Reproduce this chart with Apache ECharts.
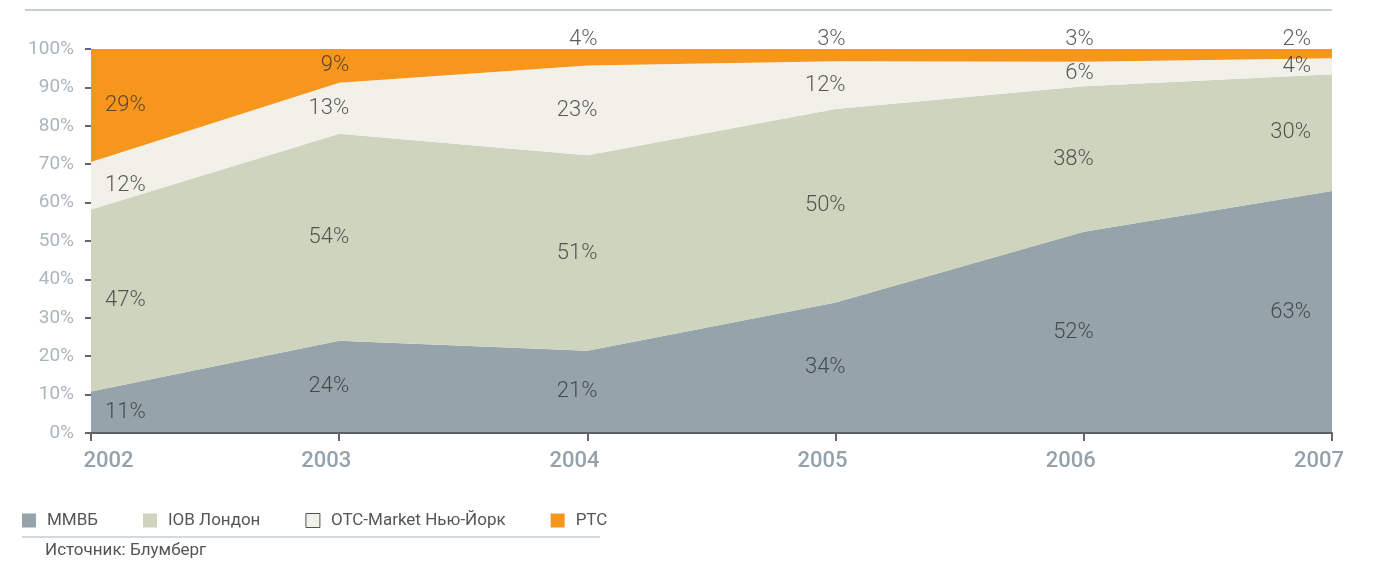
<!DOCTYPE html>
<html lang="ru">
<head>
    <meta charset="UTF-8">
    <title>Структура торгов</title>
    <script src="https://cdn.jsdelivr.net/npm/echarts@6/dist/echarts.min.js"></script>
    <style>
        html, body {margin: 0; padding: 0; background: #fff;}
        #main {width: 1376px; height: 566px;}
    </style>
</head>
<body>
<div id="main"></div>
<script type="text/javascript">

    // данные
    var years = ['2002', '2003', '2004', '2005', '2006', '2007'];
    var seriesNames = ['ММВБ', 'IOB Лондон', 'OTC-Market Нью-Йорк', 'РТС'];
    var mmvb = [10.8, 24.0, 21.4, 34.0, 52.4, 63.0];
    var iob = [47.4, 53.9, 50.9, 50.4, 37.9, 30.4];
    var otc = [12.4, 13.3, 23.4, 12.4, 6.4, 4.2];
    var rts = [29.4, 8.8, 4.3, 3.2, 3.3, 2.4];
    var yTicks = [0, 10, 20, 30, 40, 50, 60, 70, 80, 90, 100];

    var colors = ['#95a3ab', '#cfd4bf', '#f1f1e9', '#f7961d'];
    var allData = [mmvb, iob, otc, rts];

    var font = 'Roboto, "Noto Sans", sans-serif';

    // области
    var series = [];
    for (var i = 0; i < allData.length; i++) {
        series.push({
            name: seriesNames[i],
            type: 'line',
            stack: 'total',
            data: allData[i],
            symbol: 'none',
            silent: true,
            color: colors[i],
            lineStyle: {width: 0},
            areaStyle: {color: colors[i], opacity: 1}
        });
    }

    // подписи в середине каждой полосы
    var labelData = [];
    for (var j = 0; j < years.length; j++) {
        var base = 0;
        for (var k = 0; k < allData.length; k++) {
            var v = allData[k][j];
            var isTop = (k == allData.length - 1 && v < 5);
            var align = 'right', dx = 10;
            if (j == 0) { align = 'left'; dx = 14; }
            if (j == years.length - 1) { align = 'right'; dx = -21; }
            labelData.push({
                value: [years[j], isTop ? base + v : base + v / 2],
                pct: Math.round(v),
                label: {
                    position: isTop ? 'top' : 'inside',
                    distance: 0,
                    align: align,
                    offset: [dx, isTop ? 2 : 0]
                }
            });
            base += v;
        }
    }
    series.push({
        type: 'scatter',
        data: labelData,
        symbolSize: 1,
        silent: true,
        clip: false,
        z: 5,
        itemStyle: {color: 'transparent'},
        label: {
            show: true,
            color: '#333',
            fontFamily: font,
            fontWeight: 300,
            fontSize: 22,
            formatter: function (p) {
                return p.data.pct + '%';
            }
        }
    });

    var myChart = echarts.init(document.getElementById('main'));
    var option = {
        animation: false,
        grid: {left: 91, right: 44, top: 49, bottom: 133},
        legend: {
            left: 22,
            top: 512,
            padding: 0,
            icon: 'rect',
            itemWidth: 14,
            itemHeight: 14,
            itemGap: 45,
            data: [
                {name: seriesNames[0]},
                {name: seriesNames[1]},
                {name: seriesNames[2], itemStyle: {borderColor: '#555', borderWidth: 1}},
                {name: seriesNames[3]}
            ],
            textStyle: {
                color: '#555',
                fontSize: 17,
                fontFamily: font,
                padding: [0, 0, 0, 6]
            }
        },
        xAxis: {
            type: 'category',
            data: years,
            boundaryGap: false,
            z: 6,
            axisLine: {lineStyle: {color: '#5b6066', width: 2}},
            axisTick: {show: true, length: 8, lineStyle: {color: '#666', width: 2}},
            axisLabel: {
                margin: 17,
                formatter: function (val, idx) {
                    return idx == 0 ? '{first|' + val + '}' : '{other|' + val + '}';
                },
                rich: {
                    first: {
                        color: '#95a2ab', fontSize: 22, fontWeight: 500,
                        fontFamily: font, padding: [0, 0, 0, 35]
                    },
                    other: {
                        color: '#95a2ab', fontSize: 22, fontWeight: 500,
                        fontFamily: font, padding: [0, 26, 0, 0]
                    }
                }
            }
        },
        yAxis: {
            type: 'value',
            min: yTicks[0],
            max: yTicks[yTicks.length - 1],
            interval: yTicks[1] - yTicks[0],
            splitLine: {show: false},
            axisLine: {show: false},
            axisTick: {show: true, length: 6, lineStyle: {color: '#333', width: 1.5}},
            axisLabel: {
                margin: 17,
                color: '#aab5bd',
                fontSize: 19,
                fontFamily: font,
                formatter: '{value}%'
            }
        },
        graphic: [
            {
                type: 'line',
                shape: {x1: 25, y1: 10, x2: 1332, y2: 10},
                style: {stroke: '#c9d0d4', lineWidth: 2}
            },
            {
                type: 'line',
                shape: {x1: 22, y1: 537, x2: 600, y2: 537},
                style: {stroke: '#c5ccd3', lineWidth: 1.5}
            },
            {
                type: 'text',
                left: 45,
                top: 542,
                style: {
                    text: 'Источник: Блумберг',
                    fill: '#555',
                    fontSize: 17,
                    fontFamily: font
                }
            }
        ],
        series: series
    };
    myChart.setOption(option);

</script>
</body>
</html>
